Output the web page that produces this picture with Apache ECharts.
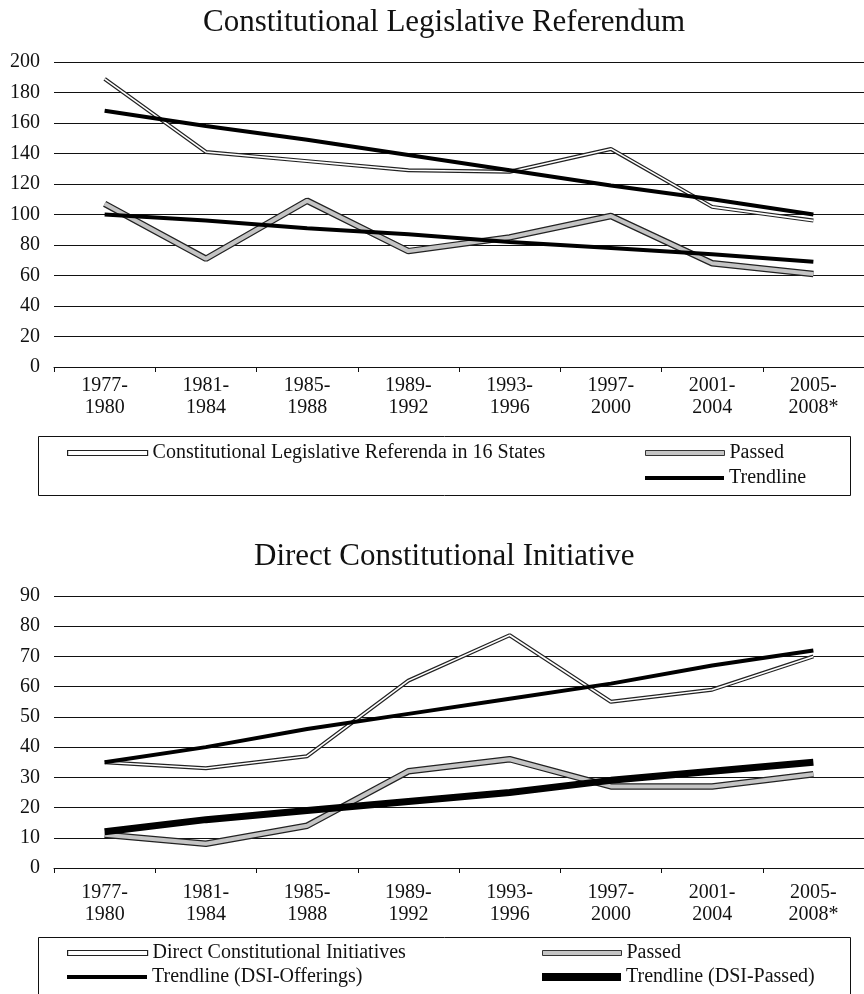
<!DOCTYPE html>
<html>
<head>
<meta charset="utf-8">
<script src="https://cdn.jsdelivr.net/npm/echarts@6/dist/echarts.min.js"></script>
<style>
  html, body { margin: 0; padding: 0; background: #fff; }
  #chart { width: 864px; height: 994px; }
</style>
</head>
<body>
<div id="chart"></div>
<script>
// periods on the x axis (same for both panels)
let periods = ['1977-\n1980', '1981-\n1984', '1985-\n1988', '1989-\n1992', '1993-\n1996', '1997-\n2000', '2001-\n2004', '2005-\n2008*'];

// top panel: constitutional legislative referendum
let referenda = [189, 141, 135, 129, 128, 143, 105, 96];
let referendaPassed = [107, 71, 109, 76, 85, 99, 68, 61];
let referendaTrend = [168, 158, 149, 139, 129, 119, 110, 100];
let referendaPassedTrend = [100, 96, 91, 87, 82, 78, 74, 69];

// bottom panel: direct constitutional initiative
let initiatives = [35, 33, 37, 62, 77, 55, 59, 70];
let initiativesPassed = [11, 8, 14, 32, 36, 27, 27, 31];
let trendOfferings = [35, 40, 46, 51, 56, 61, 67, 72];
let trendPassed = [12, 16, 19, 22, 25, 29, 32, 35];

const serif = '"Liberation Serif", "DejaVu Serif", serif';
const ink = '#111';

function xAxis(gridIndex, margin) {
    return {
        type: 'category',
        gridIndex: gridIndex,
        data: periods,
        boundaryGap: true,
        axisLine: { lineStyle: { color: ink, width: 1 } },
        axisTick: { show: true, length: 5, lineStyle: { color: ink } },
        axisLabel: { color: ink, fontFamily: serif, fontSize: 20, lineHeight: 22, margin: margin, interval: 0 }
    };
}

function yAxis(gridIndex, max, interval) {
    return {
        type: 'value',
        gridIndex: gridIndex,
        min: 0,
        max: max,
        interval: interval,
        axisLine: { show: false },
        axisTick: { show: false },
        axisLabel: { color: ink, fontFamily: serif, fontSize: 20, margin: 14 },
        splitLine: { lineStyle: { color: ink, width: 1 } }
    };
}

// outlined line = dark wide stroke + lighter narrow stroke on top
function outlined(name, data, axis, outerW, innerW, innerColor) {
    return [
        {
            name: name, type: 'line', data: data,
            xAxisIndex: axis, yAxisIndex: axis,
            symbol: 'none', silent: true, z: 2,
            lineStyle: { color: '#222', width: outerW }
        },
        {
            name: name + ' (inner)', type: 'line', data: data,
            xAxisIndex: axis, yAxisIndex: axis,
            symbol: 'none', silent: true, z: 3,
            lineStyle: { color: innerColor, width: innerW }
        }
    ];
}

function trend(name, data, axis, width) {
    return {
        name: name, type: 'line', data: data,
        xAxisIndex: axis, yAxisIndex: axis,
        symbol: 'none', silent: true, z: 4,
        lineStyle: { color: '#000', width: width }
    };
}

function legend(left, top, name, w, h, style) {
    return {
        left: left, top: top, padding: 0,
        itemWidth: w, itemHeight: h,
        selectedMode: false,
        textStyle: { color: ink, fontFamily: serif, fontSize: 20 },
        data: [{ name: name, icon: 'rect', itemStyle: style }]
    };
}

const hollow = { color: '#fff', borderColor: '#222', borderWidth: 1.2 };
const grey = { color: '#c4c4c4', borderColor: '#333', borderWidth: 1 };
const solid = { color: '#000', borderWidth: 0 };

const titleStyle = { fontFamily: serif, fontSize: 31, fontWeight: 'normal', color: ink };

let option = {
    animation: false,
    backgroundColor: '#fff',
    title: [
        { text: 'Constitutional Legislative Referendum', left: 203, top: 7, padding: 0, textStyle: titleStyle },
        { text: 'Direct Constitutional Initiative', left: 254, top: 541, padding: 0, textStyle: titleStyle }
    ],
    grid: [
        { left: 54, top: 62, width: 816, height: 305 },
        { left: 54, top: 596, width: 816, height: 272 }
    ],
    xAxis: [xAxis(0, 8), xAxis(1, 14)],
    yAxis: [yAxis(0, 200, 20), yAxis(1, 90, 10)],
    legend: [
        legend(67, 443, 'Constitutional Legislative Referenda in 16 States', 80, 5, hollow),
        legend(645, 443, 'Passed', 79, 5, grey),
        legend(645, 468, 'Trendline', 79, 4, solid),
        legend(67, 943, 'Direct Constitutional Initiatives', 80, 5, hollow),
        legend(542, 943, 'Passed', 79, 5, grey),
        legend(67, 967, 'Trendline (DSI-Offerings)', 80, 4, solid),
        legend(542, 967, 'Trendline (DSI-Passed)', 79, 8, solid)
    ],
    graphic: [
        { type: 'rect', shape: { x: 38.5, y: 436.5, width: 812, height: 59 }, style: { fill: 'none', stroke: ink, lineWidth: 1 } },
        { type: 'rect', shape: { x: 38.5, y: 937.5, width: 812, height: 70 }, style: { fill: 'none', stroke: ink, lineWidth: 1 } }
    ],
    series: [].concat(
        outlined('Constitutional Legislative Referenda in 16 States', referenda, 0, 4, 1.6, '#fff'),
        outlined('Passed', referendaPassed, 0, 6.5, 4, '#c4c4c4'),
        [trend('Trendline', referendaTrend, 0, 4), trend('Trendline', referendaPassedTrend, 0, 4)],
        outlined('Direct Constitutional Initiatives', initiatives, 1, 4, 1.6, '#fff'),
        outlined('Passed', initiativesPassed, 1, 6.5, 4, '#c4c4c4'),
        [trend('Trendline (DSI-Offerings)', trendOfferings, 1, 4), trend('Trendline (DSI-Passed)', trendPassed, 1, 7)]
    )
};

echarts.init(document.getElementById('chart')).setOption(option);
</script>
</body>
</html>
